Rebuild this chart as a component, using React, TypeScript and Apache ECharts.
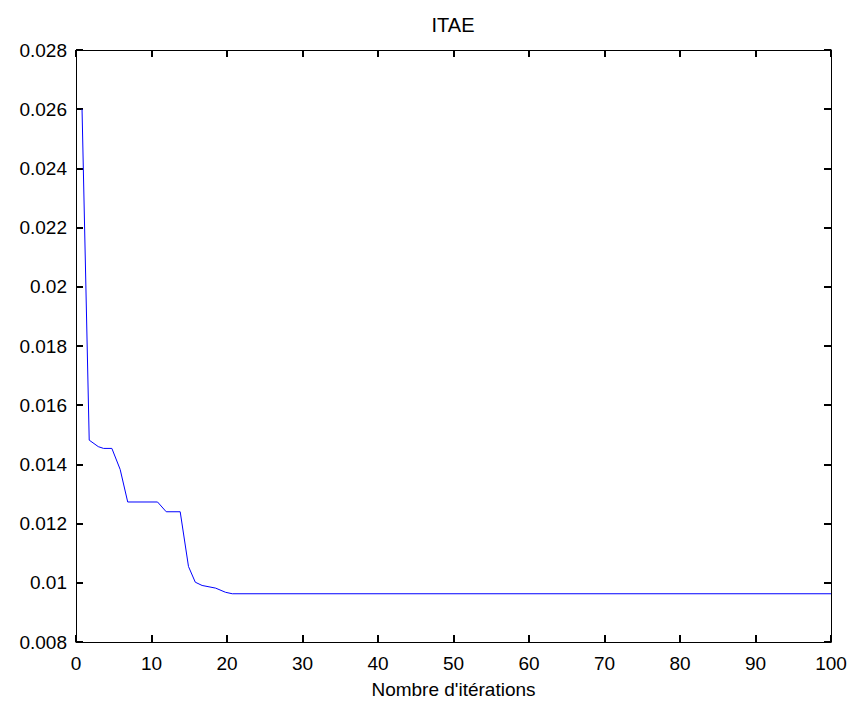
import React, { useEffect, useRef } from "react";
import * as echarts from "echarts";

const iterations = [0.8, 1.75, 2.95, 3.65, 4.75, 5.85, 6.85, 10.8, 11.95, 13.8, 14.9, 15.8, 16.7, 18.5, 19.8, 20.7, 100];
const itaeValues = [0.026, 0.01482, 0.0146, 0.01454, 0.01454, 0.01383, 0.01273, 0.01273, 0.0124, 0.0124, 0.01055, 0.01002, 0.00991, 0.00982, 0.00968, 0.00963, 0.00963];
const xTicks = { min: 0, max: 100, interval: 10 };
const yTicks = { min: 0.008, max: 0.028, interval: 0.002 };
const titleText = "ITAE";
const xName = "Nombre d'itérations";

export default function App() {
  const ref = useRef<HTMLDivElement>(null);
  useEffect(() => {
    if (!ref.current) return;
    const chart = echarts.init(ref.current, undefined, { renderer: "svg" });
    const font = "Liberation Sans, Arial, sans-serif";
    const data = iterations.map((x, i) => [x, itaeValues[i]]);
    const fmtY = (v: number) => String(parseFloat(v.toFixed(4)));
    const axisLine = () => ({ show: true, onZero: false, lineStyle: { color: "#000", width: 1 } });
    const tick = () => ({ show: true, inside: true, length: 7, lineStyle: { color: "#000", width: 2 } });
    chart.setOption({
      animation: false,
      backgroundColor: "#fff",
      title: {
        text: titleText,
        left: 453,
        top: 15,
        padding: 0,
        textAlign: "center",
        textStyle: { fontFamily: font, fontSize: 20, fontWeight: "normal", color: "#000" },
      },
      grid: { left: 76, right: 19, top: 50, bottom: 58, containLabel: false },
      xAxis: [
        {
          type: "value",
          min: xTicks.min,
          max: xTicks.max,
          interval: xTicks.interval,
          position: "bottom",
          name: xName,
          nameLocation: "middle",
          nameGap: 38,
          nameTextStyle: { fontFamily: font, fontSize: 19, color: "#000" },
          axisLine: axisLine(),
          axisTick: tick(),
          axisLabel: { fontFamily: font, fontSize: 19, color: "#000", margin: 12 },
          splitLine: { show: false },
        },
        {
          type: "value",
          min: xTicks.min,
          max: xTicks.max,
          interval: xTicks.interval,
          position: "top",
          axisLine: axisLine(),
          axisTick: tick(),
          axisLabel: { show: false },
          splitLine: { show: false },
        },
      ],
      yAxis: [
        {
          type: "value",
          min: yTicks.min,
          max: yTicks.max,
          interval: yTicks.interval,
          position: "left",
          axisLine: axisLine(),
          axisTick: tick(),
          axisLabel: { fontFamily: font, fontSize: 19, color: "#000", margin: 9, formatter: fmtY },
          splitLine: { show: false },
        },
        {
          type: "value",
          min: yTicks.min,
          max: yTicks.max,
          interval: yTicks.interval,
          position: "right",
          axisLine: axisLine(),
          axisTick: tick(),
          axisLabel: { show: false },
          splitLine: { show: false },
        },
      ],
      series: [
        {
          type: "line",
          data,
          xAxisIndex: 0,
          yAxisIndex: 0,
          showSymbol: false,
          symbol: "none",
          lineStyle: { color: "#0000ff", width: 1 },
          itemStyle: { color: "#0000ff" },
        },
      ],
    });
    return () => chart.dispose();
  }, []);
  return <div ref={ref} style={{ width: 850, height: 704, position: "absolute", left: 0, top: 0 }} />;
}
